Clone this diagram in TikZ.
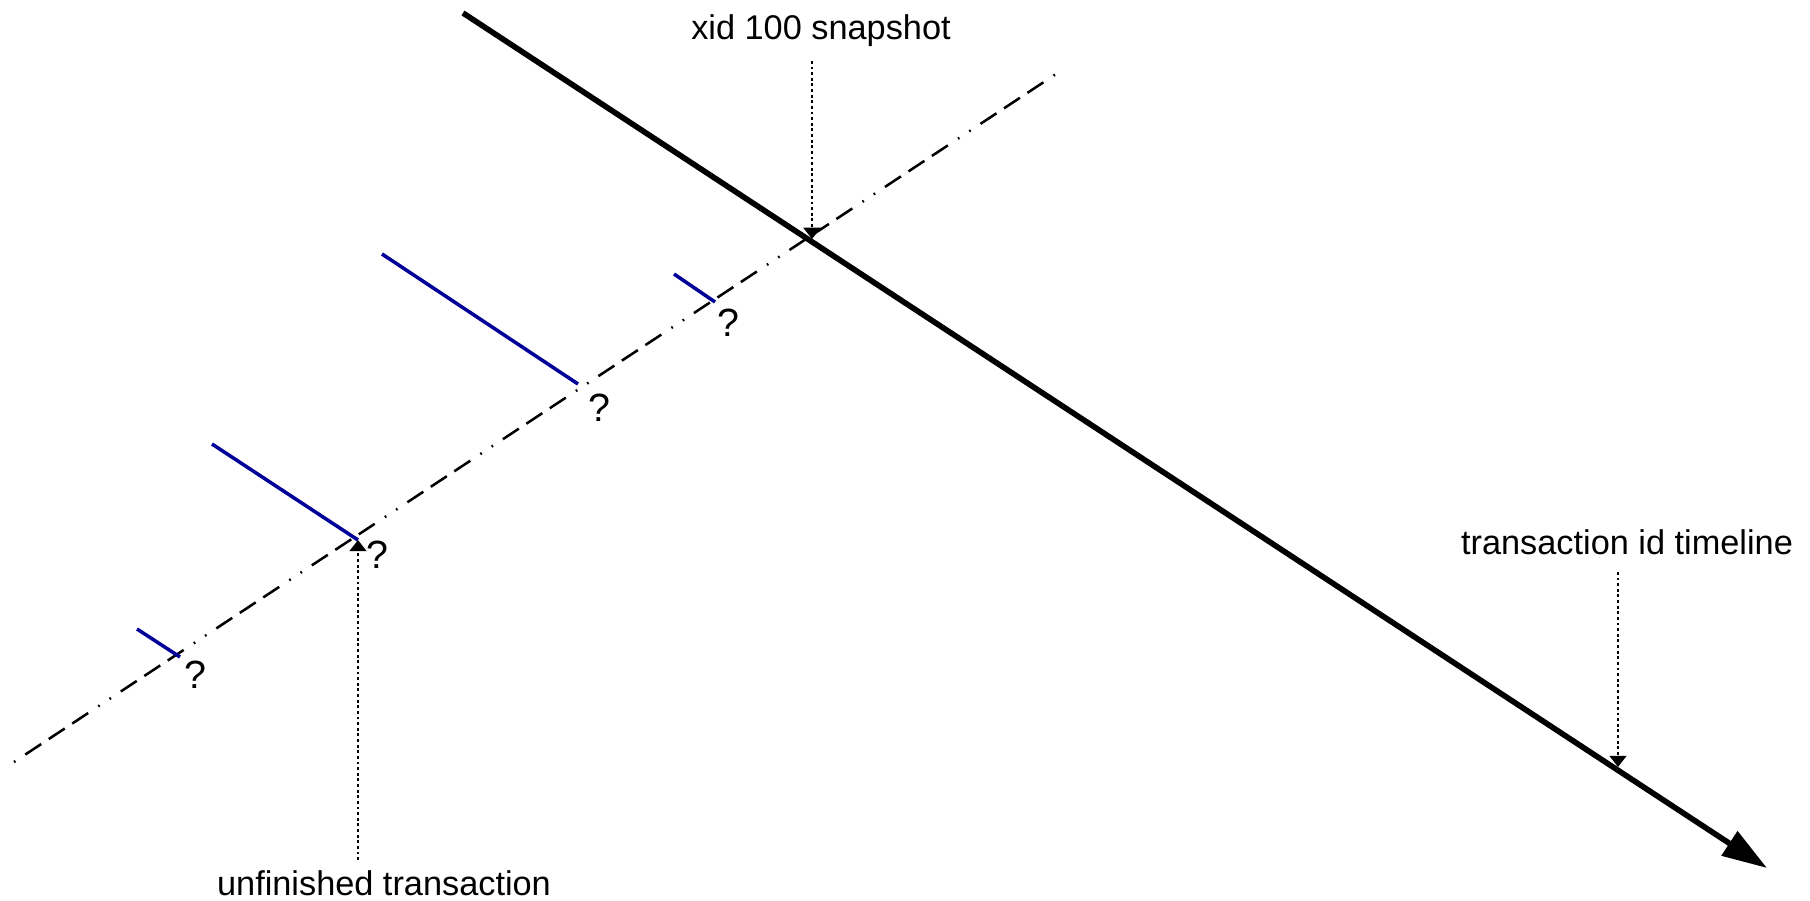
\documentclass[tikz,border=0pt]{standalone}
\usepackage{fontspec}
\setmainfont{Liberation Sans}
\usetikzlibrary{arrows.meta}
\definecolor{xactblue}{RGB}{0,0,153}

\begin{document}
\begin{tikzpicture}[x=0.0125cm, y=-0.0125cm,
        labeltext/.style={font=\fontsize{12.2}{14}\selectfont, inner sep=0pt},
        qmark/.style={font=\fontsize{14}{16}\selectfont, inner sep=0pt},
        xact/.style={line width=1.25pt, xactblue},
        pointer/.style={line width=0.85pt, dash pattern=on 1pt off 1pt, -{Triangle[length=4pt, width=6pt]}},
        horizon/.style={line width=0.9pt, dash pattern=on 0.6pt off 4.2pt on 6.8pt off 3.2pt on 6.8pt off 3.2pt on 6.8pt off 4.3pt on 0.6pt off 4.2pt}]
    \useasboundingbox (0,0) rectangle (1810,901);

    % timeline of transaction ids
    \coordinate (tl start) at (463,13);
    \coordinate (tl end) at (1767,868);
    \draw[line width=2pt, -{Triangle[length=16pt, width=10pt]}] (tl start) -- (tl end);

    % snapshot horizon
    \coordinate (hz low) at (14,762);
    \coordinate (hz high) at (1056,74);
    \draw[horizon] (hz low) -- (hz high);

    % transactions
    \coordinate (t1 start) at (382,254);
    \coordinate (t1 end) at (578,384);
    \coordinate (t2 start) at (212,444);
    \coordinate (t2 end) at (358,540);
    \coordinate (t3 start) at (674,274);
    \coordinate (t3 end) at (715,302);
    \coordinate (t4 start) at (137,629);
    \coordinate (t4 end) at (180,657);
    \draw[xact] (t1 start) -- (t1 end);
    \draw[xact] (t2 start) -- (t2 end);
    \draw[xact] (t3 start) -- (t3 end);
    \draw[xact] (t4 start) -- (t4 end);

    \node[qmark] (q1) at (599,408) {?};
    \node[qmark] (q2) at (377,555) {?};
    \node[qmark] (q3) at (728,323) {?};
    \node[qmark] (q4) at (195,675) {?};

    % labels
    \node[labeltext] (snapshot) at (821,31) {xid 100 snapshot};
    \node[labeltext] (timeline) at (1627,542) {transaction id timeline};
    \node[labeltext] (unfinished) at (384,883) {unfinished transaction};

    \coordinate (snap top) at (812,61);
    \coordinate (snap hit) at (812,239);
    \coordinate (tl top) at (1618,572);
    \coordinate (tl hit) at (1618,767);
    \coordinate (unf bottom) at (358,860);
    \draw[pointer] (snap top) -- (snap hit);
    \draw[pointer] (tl top) -- (tl hit);
    \draw[pointer] (unf bottom) -- (t2 end);
\end{tikzpicture}
\end{document}
